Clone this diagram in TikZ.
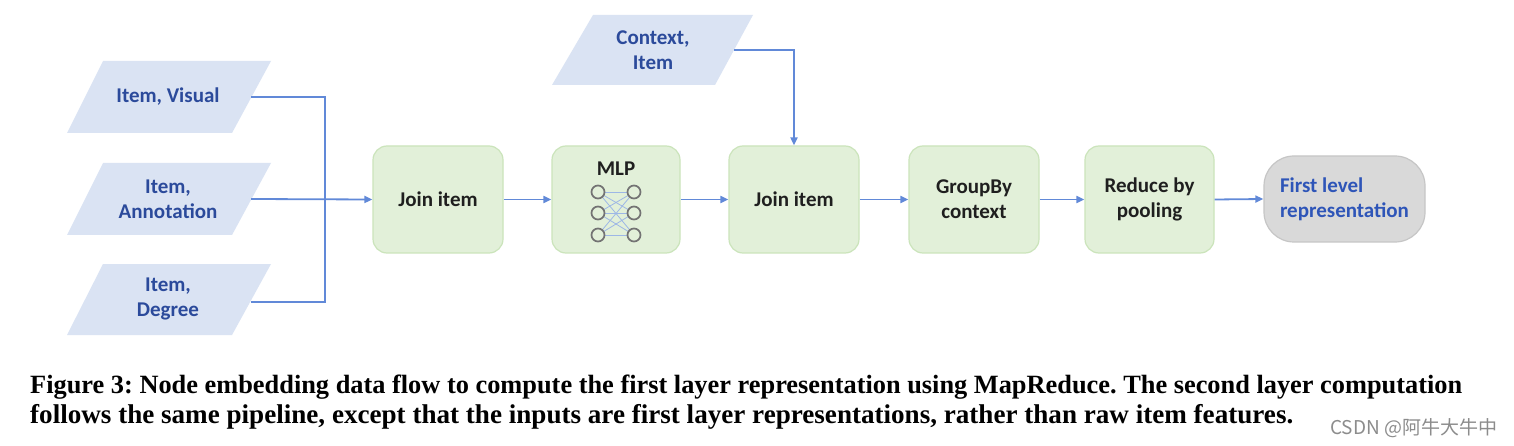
\documentclass[tikz,border=0pt]{standalone}
\usepackage{fontspec}
\setmainfont{Liberation Serif}
\newfontfamily\calfont{Carlito}
\newfontfamily\cjkfont{Noto Sans CJK SC}
\usetikzlibrary{arrows.meta,calc}
\definecolor{pfill}{HTML}{DAE3F3}
\definecolor{ptext}{HTML}{2B4A9B}
\definecolor{gfill}{HTML}{E2F0D9}
\definecolor{gdraw}{HTML}{CBE4BB}
\definecolor{lnc}{HTML}{6189D8}
\definecolor{grfill}{HTML}{D9D9D9}
\definecolor{grdraw}{HTML}{C6C6C6}
\definecolor{ftext}{HTML}{2E55B8}
\definecolor{nnline}{HTML}{9DB7E6}
\frenchspacing
\begin{document}
\begin{tikzpicture}[x=1pt,y=-1pt,
  lbl/.style={font=\calfont\bfseries\fontsize{21}{25}\selectfont, align=center},
  ptxt/.style={lbl, text=ptext},
  gbox/.style={lbl, text=black!88, fill=gfill, draw=gdraw, line width=1.2pt,
    rounded corners=14pt, minimum width=129pt, minimum height=107pt},
  conn/.style={draw=lnc, line width=1.8pt},
  arr/.style={conn, -{Triangle[length=8pt,width=7pt]}},
  neuron/.style={circle, draw=black!55, line width=1.7pt, fill=gfill, minimum size=13pt, inner sep=0pt},
  nnedge/.style={draw=nnline, line width=0.8pt},
  captxt/.style={font=\bfseries\fontsize{26}{30}\selectfont, anchor=base west, inner sep=0pt},
]
\useasboundingbox (0,0) rectangle (1514,446);
\fill[white] (0,0) rectangle (1514,446);

% input parallelograms
\fill[pfill] (67,133) -- (232,133) -- (271,61) -- (103,61) -- cycle;
\node[ptxt] (visual) at (168,97) {Item, Visual};
\coordinate (visualR) at (251,97);

\fill[pfill] (67,235) -- (232,235) -- (271,163) -- (103,163) -- cycle;
\node[ptxt] (annot) at (168,199) {Item,\\Annotation};
\coordinate (annotR) at (251,199);

\fill[pfill] (67,335) -- (232,335) -- (271,264) -- (103,264) -- cycle;
\node[ptxt] (degree) at (168,299) {Item,\\Degree};
\coordinate (degreeR) at (251,302);

\fill[pfill] (552,85) -- (715,85) -- (753,15) -- (593,15) -- cycle;
\node[ptxt] (context) at (653,50) {Context,\\Item};
\coordinate (contextR) at (734,50);

% pipeline boxes
\node[gbox, minimum width=130pt] (join1) at (438,199.5) {Join item};
\node[gbox, minimum width=128pt] (mlp) at (616,199.5) {};
\node[lbl, text=black!88] (mlptxt) at (616,169) {MLP};
\node[gbox, minimum width=130pt] (join2) at (794,199.5) {Join item};
\node[gbox, minimum width=130pt] (groupby) at (974,199.5) {GroupBy\\context};
\node[gbox, minimum width=129pt] (reduce) at (1149.5,199.5) {Reduce by\\pooling};
\node[lbl, align=left, text=ftext, fill=grfill, draw=grdraw, line width=1.2pt,
  rounded corners=30pt, minimum width=161pt, minimum height=86pt] (first) at (1344.5,199) {First level\\representation};

% MLP network
\foreach \i/\yy in {1/192,2/213,3/235}{
  \coordinate (lc\i) at (598,\yy);
  \coordinate (rc\i) at (634,\yy);
}
\foreach \i in {1,2,3}{\foreach \j in {1,2,3}{\draw[nnedge] (lc\i) -- (rc\j);}}
\foreach \i in {1,2,3}{
  \node[neuron] (l\i) at (lc\i) {};
  \node[neuron] (r\i) at (rc\i) {};
}

% connectors
\coordinate (jn) at (325,199);
\draw[conn] (visualR) -| (jn) |- (degreeR);
\draw[arr] (annotR) -- (join1.west);
\draw[arr] (contextR) -| (join2.north);
\draw[arr] (join1.east) -- (mlp.west);
\draw[arr] (mlp.east) -- (join2.west);
\draw[arr] (join2.east) -- (groupby.west);
\draw[arr] (groupby.east) -- (reduce.west);
\draw[arr] (reduce.east) -- (first.west);

% caption
\node[captxt] (cap1) at (30,393) {\resizebox{1432pt}{!}{Figure 3: Node embedding data flow to compute the first layer representation using MapReduce. The second layer computation}};
\node[captxt] (cap2) at (30,423) {\resizebox{1263pt}{!}{follows the same pipeline, except that the inputs are first layer representations, rather than raw item features.}};
\node[anchor=west, inner sep=0pt, font=\cjkfont\fontsize{19}{19}\selectfont, text=black!45] (wm) at (1330,428) {CSDN @阿牛大牛中};
\end{tikzpicture}
\end{document}
